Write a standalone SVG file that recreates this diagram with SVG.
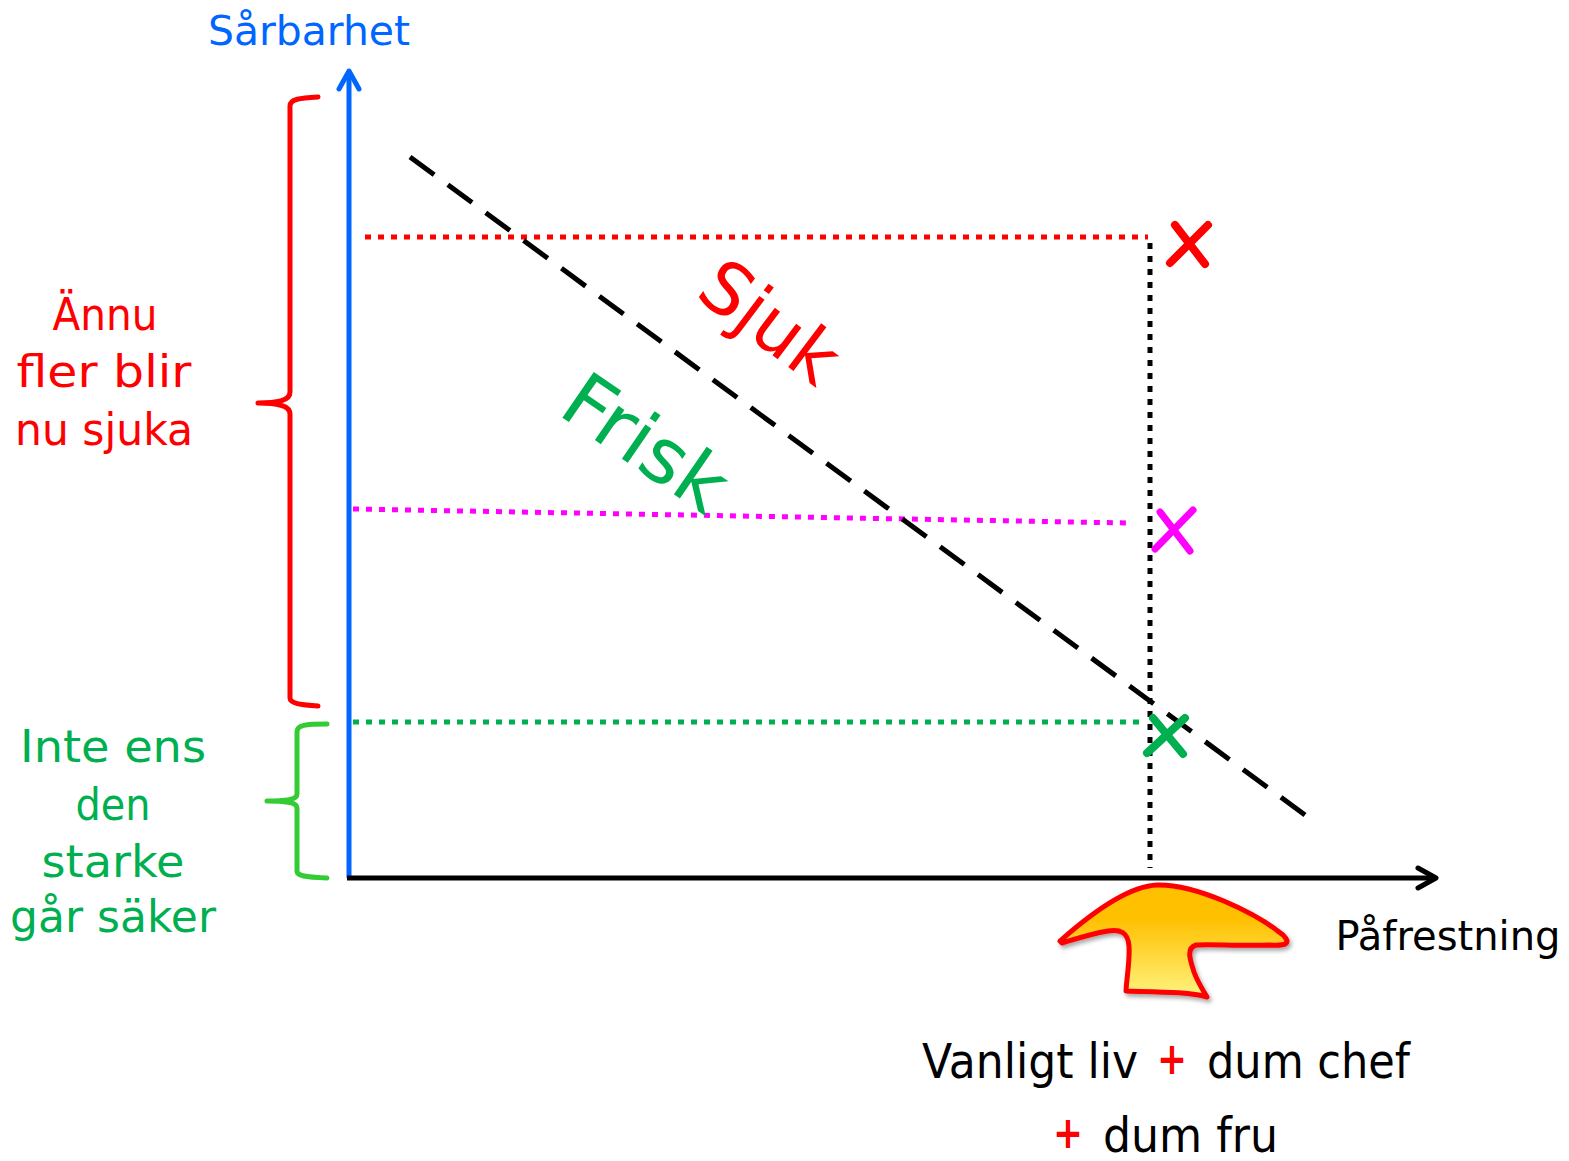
<svg xmlns="http://www.w3.org/2000/svg" width="1569" height="1161" viewBox="0 0 1569 1161">
<style>
  text { font-family: "DejaVu Sans", "Open Sans", sans-serif; }
  .lbl { font-size: 44px; text-anchor: middle; }
  .red { fill: #FF0000; }
  .green { fill: #00B050; }
  .dot { fill: none; stroke-width: 5; stroke-dasharray: 6 7; }
  .cross { fill: none; stroke-linecap: round; stroke-width: 8; }
  .brace { fill: none; stroke-width: 5; stroke-linecap: round; stroke-linejoin: round; }
  .plus { fill: #FF0000; font-weight: bold; font-size: 44px; }
</style>
<defs>
  <linearGradient id="ag" x1="0" y1="0" x2="0" y2="1">
    <stop offset="0.3" stop-color="#FFC000"/>
    <stop offset="1" stop-color="#FFF380"/>
  </linearGradient>
  <filter id="sh" x="-10%" y="-10%" width="130%" height="140%">
    <feDropShadow dx="2" dy="3" stdDeviation="2" flood-color="#000" flood-opacity="0.35"/>
  </filter>
</defs>
<rect width="1569" height="1161" fill="#fff"/>

<g id="connectors">
  <line x1="365" y1="237" x2="1148" y2="237" class="dot" stroke="#FF0000"/>
  <line x1="353" y1="509" x2="1128" y2="523" class="dot" stroke="#FF00FF"/>
  <line x1="353" y1="722" x2="1145" y2="722" class="dot" stroke="#00B050"/>
  <line x1="1150" y1="243" x2="1150" y2="868" class="dot" stroke="#000"/>
  <line x1="410" y1="157" x2="1305" y2="815" stroke="#000" stroke-width="5" stroke-dasharray="30 17"/>
  <line x1="349" y1="878" x2="349" y2="72" stroke="#0066FF" stroke-width="5"/>
  <polyline points="339,89 349,71 359,89" fill="none" stroke="#0066FF" stroke-width="5" stroke-linecap="round" stroke-linejoin="round"/>
  <line x1="347" y1="878" x2="1435" y2="878" stroke="#000" stroke-width="5"/>
  <polyline points="1418,868 1436,878 1418,888" fill="none" stroke="#000" stroke-width="5" stroke-linecap="round" stroke-linejoin="round"/>
</g>

<g id="y-label"><text x="309" y="45" font-size="40" fill="#0066FF" text-anchor="middle" textLength="202" lengthAdjust="spacingAndGlyphs">Sårbarhet</text></g>
<g id="x-label"><text x="1448" y="950" font-size="40" fill="#000" text-anchor="middle" textLength="225" lengthAdjust="spacingAndGlyphs">Påfrestning</text></g>

<g id="red-brace">
  <path class="brace" stroke="#FF0000" d="M318,97 C300,98 290,99 290,106 L290,392 C290,400 280,403 258,403 C280,403 290,406 290,414 L290,698 C290,703 300,705 318,706"/>
</g>
<g id="red-text" class="red">
  <text class="lbl" x="105" y="330" textLength="105" lengthAdjust="spacingAndGlyphs">Ännu</text>
  <text class="lbl" x="104" y="387" textLength="175" lengthAdjust="spacingAndGlyphs">fler blir</text>
  <text class="lbl" x="104" y="445" textLength="178" lengthAdjust="spacingAndGlyphs">nu sjuka</text>
</g>

<g id="green-brace">
  <path class="brace" stroke="#33CC33" d="M327,724 C305,724 297,725 297,732 L297,794 C297,799 290,801 267,801 C290,801 297,803 297,808 L297,871 C297,876 305,877 327,878"/>
</g>
<g id="green-text" class="green">
  <text class="lbl" x="113" y="762" textLength="186" lengthAdjust="spacingAndGlyphs">Inte ens</text>
  <text class="lbl" x="113" y="820" textLength="75" lengthAdjust="spacingAndGlyphs">den</text>
  <text class="lbl" x="113" y="877" textLength="143" lengthAdjust="spacingAndGlyphs">starke</text>
  <text class="lbl" x="113" y="932" textLength="206" lengthAdjust="spacingAndGlyphs">går säker</text>
</g>

<g id="sjuk"><text transform="translate(770,322) rotate(37)" font-size="72" fill="#FF0000" text-anchor="middle" dominant-baseline="central" textLength="154" lengthAdjust="spacingAndGlyphs">Sjuk</text></g>
<g id="frisk"><text transform="translate(646,443) rotate(34.5)" font-size="76" fill="#00B050" text-anchor="middle" dominant-baseline="central" textLength="182" lengthAdjust="spacingAndGlyphs">Frisk</text></g>

<g id="cross-red" class="cross" stroke="#FF0000">
  <line x1="1175" y1="225" x2="1205" y2="264"/>
  <line x1="1208" y1="225" x2="1170" y2="263"/>
</g>
<g id="cross-magenta" class="cross" stroke="#FF00FF" style="stroke-width:7">
  <line x1="1160" y1="512" x2="1190" y2="551"/>
  <line x1="1193" y1="510" x2="1155" y2="549"/>
</g>
<g id="cross-green" class="cross" stroke="#00B050">
  <line x1="1153" y1="718" x2="1183" y2="754"/>
  <line x1="1185" y1="718" x2="1147" y2="753"/>
</g>

<g id="arrow">
  <path filter="url(#sh)" fill="url(#ag)" stroke="#FF0000" stroke-width="5" stroke-linejoin="round"
    d="M1060,941 C1095,910 1130,886 1157,885 C1195,884 1255,912 1283,935 C1292,944 1285,946 1270,945 C1240,946 1210,944 1196,945 C1186,948 1190,960 1194,972 C1198,983 1203,990 1207,997 C1190,992 1160,992 1126,991 C1127,975 1130,960 1129,946 C1128,932 1120,929 1108,931 C1090,934 1072,940 1062,943 Z"/>
</g>

<g id="cause-text" font-size="48" fill="#000">
  <text x="922" y="1078" textLength="216" lengthAdjust="spacingAndGlyphs">Vanligt liv</text>
  <text x="1157" y="1074" class="plus" textLength="30" lengthAdjust="spacingAndGlyphs">+</text>
  <text x="1207" y="1078" textLength="203" lengthAdjust="spacingAndGlyphs">dum chef</text>
  <text x="1053" y="1148" class="plus" textLength="30" lengthAdjust="spacingAndGlyphs">+</text>
  <text x="1103" y="1152" textLength="175" lengthAdjust="spacingAndGlyphs">dum fru</text>
</g>
</svg>
